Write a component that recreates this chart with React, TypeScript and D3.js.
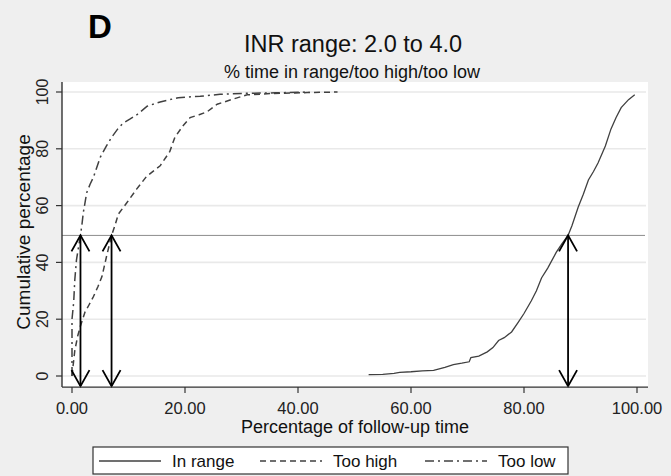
import React from "react";
import * as d3 from "d3";

const xTicks = [0, 20, 40, 60, 80, 100];
const yTicks = [0, 20, 40, 60, 80, 100];
const medianLevel = 49.5;

const inRangeX = [52.5, 55, 57, 58, 60, 62, 64, 66, 67.5, 69, 70.3, 70.6, 72, 73.5, 74.5, 75.5, 76.5, 77.8, 79, 80, 81.3, 82.2, 83.1, 84.2, 85.7, 86.7, 87.8, 88.5, 89.6, 90.5, 91.4, 92.3, 93.1, 94.4, 95.4, 96.3, 97.2, 98.5, 99.6];
const inRangeY = [0.5, 0.6, 0.9, 1.3, 1.5, 1.8, 2.0, 3.0, 4.0, 4.5, 5, 6.5, 7, 8.5, 10, 12.5, 13.5, 15.5, 19, 22, 26.5, 30, 34.5, 38, 43.5, 46.5, 49.5, 53, 59.5, 64, 69, 72, 75, 81, 87, 91, 94.5, 97.3, 99];

const tooHighX = [0, 0.1, 0.5, 1.0, 1.4, 2.3, 3.0, 3.8, 4.6, 5.3, 6.1, 7.0, 7.6, 8.2, 9.7, 11.4, 13.2, 15.6, 17.3, 18.2, 19.6, 20.9, 22.5, 23.9, 25.7, 28.5, 31, 35.6, 41.6, 47];
const tooHighY = [0, 2, 9, 14, 17, 22.5, 25, 28, 31.5, 35, 42, 49.5, 53, 57, 61, 65.7, 70.3, 74, 79, 84, 88, 91, 92, 93, 95.7, 97.5, 99, 99.5, 99.8, 100];

const tooLowX = [0, 0, 0.3, 0.5, 0.8, 1.2, 1.5, 1.8, 2.0, 2.6, 3.2, 3.8, 5, 6.1, 7, 8.1, 9, 10.3, 11.5, 13.3, 15.6, 18.8, 22.7, 26.2, 30, 36, 42];
const tooLowY = [0, 20, 26, 34, 41, 46, 49.5, 54, 57.5, 64.5, 67.5, 70, 77, 81, 84, 87, 89, 90.5, 92, 95, 96.5, 98, 98.5, 99.2, 99.5, 99.7, 100];

const medians = [1.5, 7.0, 87.8];

const seriesNames = ["In range", "Too high", "Too low"];

const W = 671;
const H = 476;
const FONT = "'Liberation Sans', Arial, sans-serif";

const x = d3.scaleLinear().domain([0, 100]).range([72, 637]);
const y = d3.scaleLinear().domain([0, 100]).range([376, 92]);
const plotLeft = 62;
const plotRight = 648;
const plotTop = y(103.5);
const plotBottom = y(-3.9);

const line = d3
  .line<[number, number]>()
  .x((d) => x(d[0]))
  .y((d) => y(d[1]));

const zip = (a: number[], b: number[]) => a.map((v, i) => [v, b[i]] as [number, number]);

const styles = [
  { dash: undefined as string | undefined, color: "#404040", w: 1.3 },
  { dash: "6,4", color: "#404040", w: 1.5 },
  { dash: "9,4,2,4", color: "#404040", w: 1.5 },
];

export default function App() {
  const data = [zip(inRangeX, inRangeY), zip(tooHighX, tooHighY), zip(tooLowX, tooLowY)];
  const legendItems = [
    { lx: 99, tx: 172 },
    { lx: 260, tx: 333 },
    { lx: 425, tx: 498 },
  ];
  return (
    <svg
      width={W}
      height={H}
      style={{ position: "fixed", left: 0, top: 0, display: "block" }}
      fontFamily={FONT}
    >
      <rect x={0} y={0} width={W} height={H} fill="#efefef" />
      <rect x={plotLeft} y={plotTop} width={plotRight - plotLeft} height={plotBottom - plotTop} fill="#ffffff" />

      {yTicks.map((t) => (
        <line key={"g" + t} x1={plotLeft} x2={plotRight - 2} y1={y(t)} y2={y(t)} stroke="#e9e9e9" strokeWidth={1.6} />
      ))}

      <line x1={plotLeft} x2={plotRight - 3} y1={y(medianLevel)} y2={y(medianLevel)} stroke="#8c8c8c" strokeWidth={1} />

      {data.map((d, i) => (
        <path
          key={"c" + i}
          d={line(d) || ""}
          fill="none"
          stroke={styles[i].color}
          strokeWidth={styles[i].w}
          strokeDasharray={styles[i].dash}
        />
      ))}

      {medians.map((m, i) => {
        const ax = x(m);
        const top = y(medianLevel);
        const bot = plotBottom - 1;
        return (
          <g key={"a" + i} stroke="#000" strokeWidth={1.8} fill="none">
            <line x1={ax} x2={ax} y1={top} y2={bot} />
            <polyline points={`${ax - 9},${top + 16} ${ax},${top} ${ax + 9},${top + 16}`} />
            <polyline points={`${ax - 9},${bot - 16} ${ax},${bot} ${ax + 9},${bot - 16}`} />
          </g>
        );
      })}

      <line x1={plotLeft} x2={plotLeft} y1={plotTop} y2={plotBottom} stroke="#333" strokeWidth={1.4} />
      <line x1={plotLeft} x2={plotRight} y1={plotBottom} y2={plotBottom} stroke="#333" strokeWidth={1.4} />
      {yTicks.map((t) => (
        <g key={"yt" + t}>
          <line x1={plotLeft - 6} x2={plotLeft} y1={y(t)} y2={y(t)} stroke="#333" strokeWidth={1.2} />
          <text
            x={48}
            y={y(t)}
            transform={`rotate(-90, 48, ${y(t)})`}
            textAnchor="middle"
            fontSize={16}
            fill="#222"
          >
            {t}
          </text>
        </g>
      ))}
      {xTicks.map((t) => (
        <g key={"xt" + t}>
          <line x1={x(t)} x2={x(t)} y1={plotBottom} y2={plotBottom + 6} stroke="#333" strokeWidth={1.2} />
          <text x={x(t)} y={414} textAnchor="middle" fontSize={16.5} fill="#222">
            {t.toFixed(2)}
          </text>
        </g>
      ))}

      <text x={355} y={433} textAnchor="middle" fontSize={18} fill="#111">
        Percentage of follow-up time
      </text>
      <text
        x={30}
        y={232}
        transform="rotate(-90, 30, 232)"
        textAnchor="middle"
        fontSize={19}
        fill="#111"
      >
        Cumulative percentage
      </text>

      <text x={88} y={38} fontSize={33} fontWeight="bold" fill="#000">
        D
      </text>
      <text x={353} y={52} textAnchor="middle" fontSize={23.5} fill="#111">
        INR range: 2.0 to 4.0
      </text>
      <text x={352} y={78} textAnchor="middle" fontSize={18} fill="#111">
        % time in range/too high/too low
      </text>

      <rect x={93} y={447} width={475} height={27} fill="#fff" stroke="#333" strokeWidth={1.2} />
      {seriesNames.map((name, i) => (
        <g key={"l" + i}>
          <line
            x1={legendItems[i].lx}
            x2={legendItems[i].lx + 62}
            y1={461}
            y2={461}
            stroke={styles[i].color}
            strokeWidth={styles[i].w}
            strokeDasharray={styles[i].dash}
          />
          <text x={legendItems[i].tx} y={467} fontSize={17} fill="#111">
            {name}
          </text>
        </g>
      ))}
    </svg>
  );
}
